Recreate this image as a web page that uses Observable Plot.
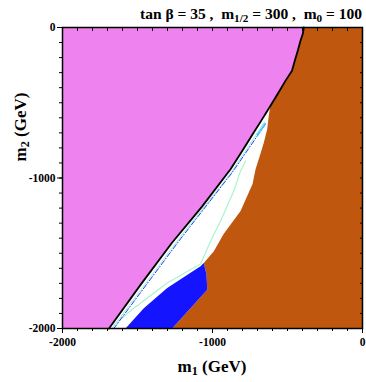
<!DOCTYPE html>
<html>
<head>
<meta charset="utf-8">
<script src="https://cdn.jsdelivr.net/npm/d3@7"></script>
<script src="https://cdn.jsdelivr.net/npm/@observablehq/plot@0.6"></script>
<style>
  html, body { margin: 0; padding: 0; background: #fff; }
  #chart svg { display: block; }
</style>
</head>
<body>
<div id="chart"></div>
<script>
// ---- data ----
// black boundary between violet region and the rest (m1, m2 in GeV)
const blackX = [-391, -398, -413, -431, -451, -470, -513, -553, -593, -635, -680, -725, -802, -880, -1070, -1270, -1480, -1690];
const blackY = [0, -42, -87, -153, -220, -287, -353, -420, -487, -555, -627, -698, -820, -942, -1190, -1430, -1710, -2000];
// edge of brown region facing the white allowed region (top to bottom)
const brownEdgeX = [-614, -625, -635, -658, -685, -713, -733, -813, -927, -991, -1058];
const brownEdgeY = [-520, -587, -675, -765, -853, -942, -1040, -1220, -1373, -1487, -1565];
// blue region outline
const blueX = [-1058, -1040, -1035, -1269, -1580, -1458, -1302, -1080];
const blueY = [-1565, -1642, -1742, -2000, -2000, -1865, -1731, -1587];
// blue dash-dot contour
const dashX = [-647, -869, -1225, -1658];
const dashY = [-642, -964, -1420, -2000];
// light cyan dotted piece at top of dash-dot contour
const cyanX = [-650, -700];
const cyanY = [-640, -712];
// green contours
const greenLeftX = [-655, -740, -880, -1240, -1670];
const greenLeftY = [-630, -760, -970, -1425, -2000];
const greenRightX = [-780, -813, -858, -947, -1013, -1080, -1302, -1525, -1658];
const greenRightY = [-887, -953, -1087, -1287, -1420, -1571, -1698, -1865, -1975];
// axes
const xMinor = d3.range(-2000, 1, 100);
const xMajor = [-2000, -1000, 0];
const yMinor = d3.range(-2000, 1, 100);
const yMajor = [-2000, -1000, 0];

// ---- build polygons ----
const pts = (xs, ys) => xs.map((x, i) => ({x, y: ys[i]}));
const black = pts(blackX, blackY);
const violetPoly = [{x: -2000, y: 0}, ...black, {x: -2000, y: -2000}];
const blackTop = black.filter(p => p.y > brownEdgeY[0]);
const brownPoly = [
  {x: 0, y: 0}, {x: 0, y: -2000},
  ...pts(blueX.slice(0, 4), blueY.slice(0, 4)).reverse(),
  ...pts(brownEdgeX, brownEdgeY).reverse(),
  ...blackTop.slice().reverse()
];
const bluePoly = pts(blueX, blueY);

const plot = Plot.plot({
  width: 366,
  height: 382,
  marginLeft: 62,
  marginRight: 4,
  marginTop: 27,
  marginBottom: 54,
  style: {fontFamily: "'Liberation Serif', 'Times New Roman', serif", fontWeight: "bold", fontSize: "11.5px", background: "#fff"},
  x: {domain: [-2000, 0], axis: null},
  y: {domain: [-2000, 0], axis: null},
  marks: [
    Plot.line(violetPoly, {x: "x", y: "y", fill: "#ee82ee", stroke: "none"}),
    Plot.line(brownPoly, {x: "x", y: "y", fill: "#c0570f", stroke: "none"}),
    Plot.line(bluePoly, {x: "x", y: "y", fill: "#1414ff", stroke: "none"}),
    Plot.line(pts(greenLeftX, greenLeftY), {x: "x", y: "y", stroke: "#a8f5cc", strokeWidth: 1.1}),
    Plot.line(pts(greenRightX, greenRightY), {x: "x", y: "y", stroke: "#a8f5cc", strokeWidth: 1.2}),
    Plot.line(pts(dashX, dashY), {x: "x", y: "y", stroke: "#2a3cff", strokeWidth: 1, strokeDasharray: "5,2,1,2"}),
    Plot.line(pts(cyanX, cyanY), {x: "x", y: "y", stroke: "#55c8ff", strokeWidth: 2, strokeDasharray: "1.5,1.5"}),
    Plot.line(black, {x: "x", y: "y", stroke: "#000", strokeWidth: 1.8, strokeLinejoin: "round"}),
    Plot.frame({stroke: "#000", strokeWidth: 1.5}),
    Plot.axisX(xMinor, {anchor: "bottom", tickSize: 3, tickFormat: () => "", label: null}),
    Plot.axisX(xMajor, {anchor: "bottom", tickSize: 5, tickPadding: 4, tickFormat: d => String(d), label: null}),
    Plot.axisX(xMinor, {anchor: "top", tickSize: -3, tickFormat: () => "", label: null}),
    Plot.axisY(yMinor, {anchor: "left", tickSize: 3, tickFormat: () => "", label: null}),
    Plot.axisY(yMajor, {anchor: "left", tickSize: 5, tickPadding: 2, tickFormat: d => String(d), label: null}),
    Plot.axisY(yMinor, {anchor: "right", tickSize: -3, tickFormat: () => "", label: null})
  ]
});
document.getElementById("chart").appendChild(plot);

// ---- titles with subscripts ----
const svg = d3.select(plot);
const font = "'Liberation Serif', 'Times New Roman', serif";
function sub(t, s) { t.append("tspan").attr("baseline-shift", "-25%").attr("font-size", "0.72em").text(s); }

const title = svg.append("text")
  .attr("x", 362).attr("y", 19).attr("text-anchor", "end")
  .attr("font-family", font).attr("font-weight", "bold").attr("font-size", "15.5px").attr("fill", "#000");
title.append("tspan").text("tan β = 35 ,  m");
sub(title, "1/2");
title.append("tspan").text(" = 300 ,  m");
sub(title, "0");
title.append("tspan").text(" = 100");

const xl = svg.append("text")
  .attr("x", 212).attr("y", 372).attr("text-anchor", "middle")
  .attr("font-family", font).attr("font-weight", "bold").attr("font-size", "17px").attr("fill", "#000");
xl.append("tspan").text("m");
sub(xl, "1");
xl.append("tspan").text(" (GeV)");

const yl = svg.append("text")
  .attr("transform", "translate(26,127) rotate(-90)").attr("text-anchor", "middle")
  .attr("font-family", font).attr("font-weight", "bold").attr("font-size", "17px").attr("fill", "#000");
yl.append("tspan").text("m");
sub(yl, "2");
yl.append("tspan").text(" (GeV)");
</script>
</body>
</html>
